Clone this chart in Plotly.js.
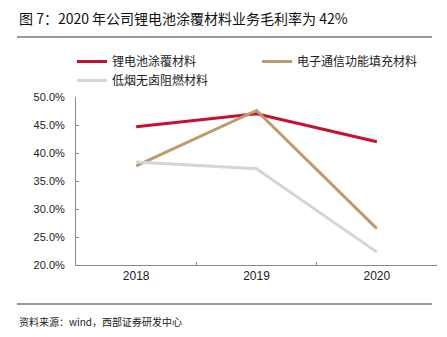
<!DOCTYPE html>
<html><head><meta charset="utf-8">
<script src="https://cdn.plot.ly/plotly-3.0.1.min.js"></script>
<style>body{margin:0;background:#fff}#c{width:447px;height:337px}</style>
</head><body><div id="c"></div>
<script>
var years = ['2018', '2019', '2020'];
var battery = [44.7, 47.0, 42.0];
var electronic = [37.7, 47.6, 26.5];
var flameRetardant = [38.4, 37.2, 22.3];
var seriesNames = ['锂电池涂覆材料', '电子通信功能填充材料', '低烟无卤阻燃材料'];
var colors = ['#C8102E', '#BF9A6E', '#D5D5D5'];

var L = 76, R = 10, T = 97, B = 72, W = 447, H = 337;
var pw = W - L - R, ph = H - T - B;
function px(x) { return (x - L) / pw; }
function py(y) { return (H - B - y) / ph; }

var cjk = '"Noto Sans CJK SC", sans-serif';
var latin = '"Liberation Sans", Arial, sans-serif';

var data = [battery, electronic, flameRetardant].map(function (v, i) {
  return {x: years, y: v, name: seriesNames[i], type: 'scatter', mode: 'lines',
    line: {color: colors[i], width: 3}};
});

var layout = {
  width: W, height: H,
  margin: {l: L, r: R, t: T, b: B},
  paper_bgcolor: '#fff', plot_bgcolor: '#fff',
  font: {family: latin, size: 11, color: '#222'},
  showlegend: true,
  legend: {orientation: 'h', x: px(72), y: py(47), xanchor: 'left', yanchor: 'top',
    entrywidth: 140, entrywidthmode: 'pixels', tracegroupgap: 0,
    font: {family: cjk, size: 12, color: '#222'}, bgcolor: 'rgba(0,0,0,0)'},
  xaxis: {type: 'category', range: [-0.5, 2.5], showline: true, linecolor: '#888', linewidth: 1,
    ticks: 'inside', ticklen: 3, tickcolor: '#888', tickson: 'boundaries', showgrid: false,
    zeroline: false, tickfont: {family: latin, size: 12, color: '#222'}},
  yaxis: {range: [20, 50], dtick: 5, tickformat: '.1f', ticksuffix: '%', showline: true,
    linecolor: '#888', linewidth: 1, ticks: 'inside', ticklen: 3, tickcolor: '#888',
    showgrid: false, zeroline: false, ticklabelstandoff: 8,
    tickfont: {family: latin, size: 11, color: '#222'}},
  annotations: [
    {text: '图 7：2020 年公司锂电池涂覆材料业务毛利率为 42%', xref: 'paper', yref: 'paper',
      x: px(17), y: py(18), xanchor: 'left', yanchor: 'middle', showarrow: false,
      font: {family: cjk, size: 14, color: '#111'}},
    {text: '资料来源：wind，西部证券研发中心', xref: 'paper', yref: 'paper',
      x: px(17), y: py(321), xanchor: 'left', yanchor: 'middle', showarrow: false,
      font: {family: cjk, size: 10, color: '#222'}}
  ],
  shapes: [
    {type: 'line', xref: 'paper', yref: 'paper', x0: px(17), x1: px(432), y0: py(37), y1: py(37),
      line: {color: '#333', width: 1.2}},
    {type: 'line', xref: 'paper', yref: 'paper', x0: px(17), x1: px(432), y0: py(304), y1: py(304),
      line: {color: '#999', width: 2}}
  ]
};
Plotly.newPlot('c', data, layout, {displayModeBar: false, staticPlot: true});
</script></body></html>
